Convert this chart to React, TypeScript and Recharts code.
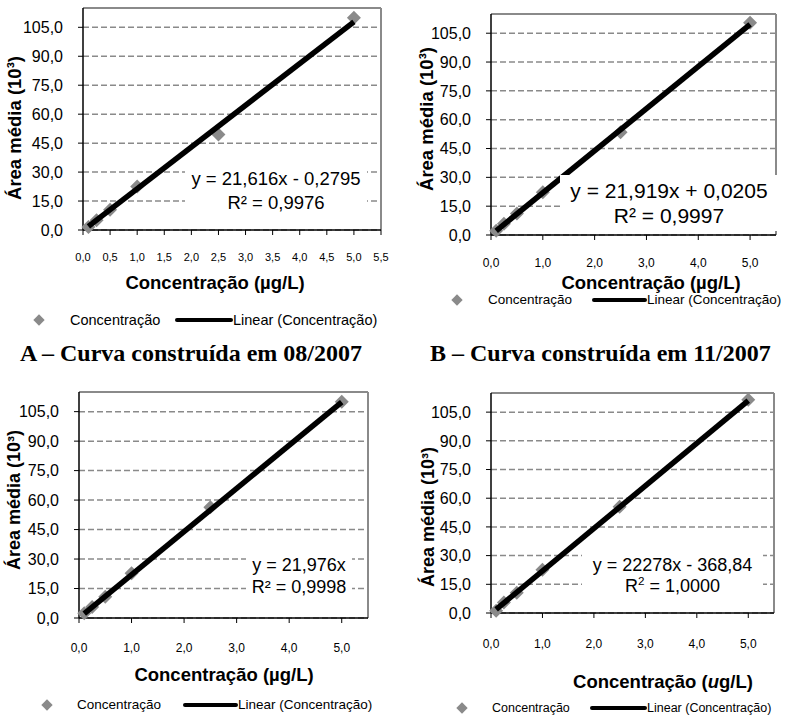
import { ScatterChart, Scatter, XAxis, YAxis, CartesianGrid, ReferenceLine } from 'recharts'

// concentration levels (µg/L) and mean peak area (10³)
const concA = [0.1, 0.25, 0.5, 1.0, 2.5, 5.0]
const areaA = [1.6, 5.0, 10.5, 22.5, 49.5, 110.0]
const trendXA = [0.1, 5.0]
const trendYA = [1.9, 107.8]

const concB = [0.1, 0.25, 0.5, 1.0, 2.5, 5.0]
const areaB = [2.2, 5.8, 11.2, 22.3, 53.5, 110.5]
const trendXB = [0.1, 5.0]
const trendYB = [2.2, 109.6]

const concC = [0.1, 0.25, 0.5, 1.0, 2.5, 5.0]
const areaC = [2.4, 5.6, 10.8, 22.8, 56.3, 110.0]
const trendXC = [0.1, 5.0]
const trendYC = [2.2, 109.9]

const concD = [0.1, 0.25, 0.5, 1.0, 2.5, 5.0]
const areaD = [1.2, 5.5, 10.6, 22.6, 55.5, 111.5]
const trendXD = [0.1, 5.0]
const trendYD = [1.9, 111.0]

const yTicks = [0, 15, 30, 45, 60, 75, 90, 105]
const xTicksA = [0, 0.5, 1, 1.5, 2, 2.5, 3, 3.5, 4, 4.5, 5, 5.5]
const xTicksB = [0, 1, 2, 3, 4, 5]

const eqA = ['y = 21,616x - 0,2795', 'R² = 0,9976']
const eqB = ['y = 21,919x + 0,0205', 'R² = 0,9997']
const eqC = ['y = 21,976x', 'R² = 0,9998']
const eqD = ['y = 22278x - 368,84', 'R', ' = 1,0000']

const FONT = '"Liberation Sans", Arial, sans-serif'
const fmt = (v: number) => v.toFixed(1).replace('.', ',')
const toPts = (xs: number[], ys: number[]) => xs.map((x, i) => ({ x, y: ys[i] }))

const Diamond = (props: any) => {
  const { cx, cy } = props
  const r = 7
  return (
    <polygon
      points={`${cx},${cy - r} ${cx + r},${cy} ${cx},${cy + r} ${cx - r},${cy}`}
      fill="#8a8a8a"
    />
  )
}

interface PanelProps {
  left: number
  top: number
  width: number
  height: number
  margin: { top: number; right: number; left: number; bottom: number }
  yWidth: number
  xHeight: number
  xTicks: number[]
  xFont: number
  xTickMargin: number
  conc: number[]
  area: number[]
  tx: number[]
  ty: number[]
}

function Panel(p: PanelProps) {
  return (
    <div style={{ position: 'absolute', left: p.left, top: p.top }}>
      <ScatterChart width={p.width} height={p.height} margin={p.margin} style={{ fontFamily: FONT }}>
        <CartesianGrid vertical={false} stroke="#8a8a8a" strokeDasharray="6 3" strokeWidth={1.5} />
        <XAxis
          type="number"
          dataKey="x"
          domain={[0, 5.5]}
          ticks={p.xTicks}
          tickFormatter={fmt}
          height={p.xHeight}
          tick={{ fill: '#000', fontSize: p.xFont }}
          tickSize={5}
          tickMargin={p.xTickMargin}
          axisLine={{ stroke: '#000', strokeWidth: 1.5 }}
          tickLine={{ stroke: '#000' }}
        />
        <YAxis
          type="number"
          dataKey="y"
          domain={[0, 115]}
          ticks={yTicks}
          tickFormatter={fmt}
          width={p.yWidth}
          tick={{ fill: '#000', fontSize: 16 }}
          tickSize={5}
          tickMargin={15}
          axisLine={{ stroke: '#000', strokeWidth: 1.5 }}
          tickLine={{ stroke: '#000' }}
        />
        <ReferenceLine y={115} stroke="#8a8a8a" strokeWidth={2} />
        <ReferenceLine x={5.5} stroke="#8a8a8a" strokeWidth={2} />
        <Scatter data={toPts(p.conc, p.area)} shape={Diamond} isAnimationActive={false} />
        <Scatter
          data={toPts(p.tx, p.ty)}
          line={{ stroke: '#000', strokeWidth: 5.5 }}
          shape={() => <g />}
          isAnimationActive={false}
        />
      </ScatterChart>
    </div>
  )
}

const abs = (left: number, top: number, extra: React.CSSProperties = {}): React.CSSProperties => ({
  position: 'absolute',
  left,
  top,
  whiteSpace: 'nowrap',
  fontFamily: FONT,
  ...extra,
})

function YTitle({ cx, cy, size = 18 }: { cx: number; cy: number; size?: number }) {
  return (
    <div
      style={abs(cx, cy, {
        fontWeight: 'bold',
        fontSize: size,
        transform: 'translate(-50%, -50%) rotate(-90deg)',
      })}
    >
      Área média (10³)
    </div>
  )
}

function XTitle({ cx, cy, italicU }: { cx: number; cy: number; italicU?: boolean }) {
  return (
    <div
      style={abs(cx, cy, {
        fontWeight: 'bold',
        fontSize: 18.5,
        lineHeight: '18px',
        transform: 'translate(-50%, -50%)',
      })}
    >
      {italicU ? (
        <>
          Concentração (<i>u</i>g/L)
        </>
      ) : (
        'Concentração (µg/L)'
      )}
    </div>
  )
}

function Legend({ dx, y, t1, l1, l2, t2, font }: { dx: number; y: number; t1: number; l1: number; l2: number; t2: number; font: number }) {
  const txt = { fontSize: font, lineHeight: `${Math.round(font)}px`, transform: 'translateY(-50%)' }
  return (
    <>
      <div
        style={abs(dx - 4, y - 4, { width: 8, height: 8, background: '#8a8a8a', transform: 'rotate(45deg)' })}
      />
      <div style={abs(t1, y, txt)}>Concentração</div>
      <div style={abs(l1, y - 2, { width: l2 - l1, height: 4, background: '#000', borderRadius: 2 })} />
      <div style={abs(t2, y, txt)}>Linear (Concentração)</div>
    </>
  )
}

function Equation({ left, top, width, height, font, lineH, lines, sup }: any) {
  return (
    <div
      style={abs(left, top, {
        width,
        height,
        background: '#fff',
        fontSize: font,
        lineHeight: `${lineH}px`,
        textAlign: 'center',
        display: 'flex',
        flexDirection: 'column',
        justifyContent: 'center',
      })}
    >
      <div>{lines[0]}</div>
      {sup ? (
        <div>
          {lines[1]}
          <sup style={{ fontSize: font * 0.65, lineHeight: 0 }}>2</sup>
          {lines[2]}
        </div>
      ) : (
        <div>{lines[1]}</div>
      )}
    </div>
  )
}

export default function App() {
  return (
    <div style={{ position: 'absolute', left: 0, top: 0, width: 800, height: 716, background: '#fff' }}>
      <Panel
        left={0}
        top={0}
        width={400}
        height={330}
        margin={{ top: 8, right: 19, left: 0, bottom: 0 }}
        yWidth={83}
        xHeight={100}
        xTicks={xTicksA}
        xFont={11}
        xTickMargin={18}
        conc={concA}
        area={areaA}
        tx={trendXA}
        ty={trendYA}
      />
      <Panel
        left={400}
        top={0}
        width={400}
        height={330}
        margin={{ top: 14, right: 24, left: 0, bottom: 0 }}
        yWidth={91}
        xHeight={95}
        xTicks={xTicksB}
        xFont={12}
        xTickMargin={18}
        conc={concB}
        area={areaB}
        tx={trendXB}
        ty={trendYB}
      />
      <Panel
        left={0}
        top={370}
        width={400}
        height={346}
        margin={{ top: 22, right: 32, left: 0, bottom: 0 }}
        yWidth={79}
        xHeight={98}
        xTicks={xTicksB}
        xFont={12}
        xTickMargin={20}
        conc={concC}
        area={areaC}
        tx={trendXC}
        ty={trendYC}
      />
      <Panel
        left={400}
        top={370}
        width={400}
        height={346}
        margin={{ top: 23, right: 26, left: 0, bottom: 0 }}
        yWidth={91}
        xHeight={103}
        xTicks={xTicksB}
        xFont={12}
        xTickMargin={21}
        conc={concD}
        area={areaD}
        tx={trendXD}
        ty={trendYD}
      />

      <Equation left={185} top={165} width={182} height={52} font={18.5} lineH={24} lines={eqA} />
      <Equation left={560} top={175} width={218} height={56} font={21} lineH={25} lines={eqB} />
      <Equation left={246} top={551} width={106} height={49} font={18} lineH={22} lines={eqC} />
      <Equation left={582} top={552} width={181} height={47} font={18} lineH={21} lines={eqD} sup />

      <YTitle cx={15} cy={128} size={18.5} />
      <YTitle cx={427} cy={119} size={18.5} />
      <YTitle cx={14} cy={500} />
      <YTitle cx={428} cy={517} />

      <XTitle cx={215} cy={283} />
      <XTitle cx={651} cy={283} />
      <XTitle cx={224} cy={675} />
      <XTitle cx={663} cy={682} italicU />

      <Legend dx={39} y={320} t1={70} l1={175} l2={233} t2={233} font={14.5} />
      <Legend dx={457} y={300} t1={488} l1={592} l2={647} t2={647} font={13.5} />
      <Legend dx={47} y={705} t1={77} l1={183} l2={238} t2={238} font={13.5} />
      <Legend dx={462} y={708} t1={492} l1={590} l2={647} t2={647} font={12.5} />

      <div
        style={abs(20, 340, {
          fontFamily: '"Liberation Serif", "Times New Roman", serif',
          fontWeight: 'bold',
          fontSize: 24,
          lineHeight: '26px',
        })}
      >
        A – Curva construída em 08/2007
      </div>
      <div
        style={abs(430, 340, {
          fontFamily: '"Liberation Serif", "Times New Roman", serif',
          fontWeight: 'bold',
          fontSize: 24,
          lineHeight: '26px',
        })}
      >
        B – Curva construída em 11/2007
      </div>
    </div>
  )
}
